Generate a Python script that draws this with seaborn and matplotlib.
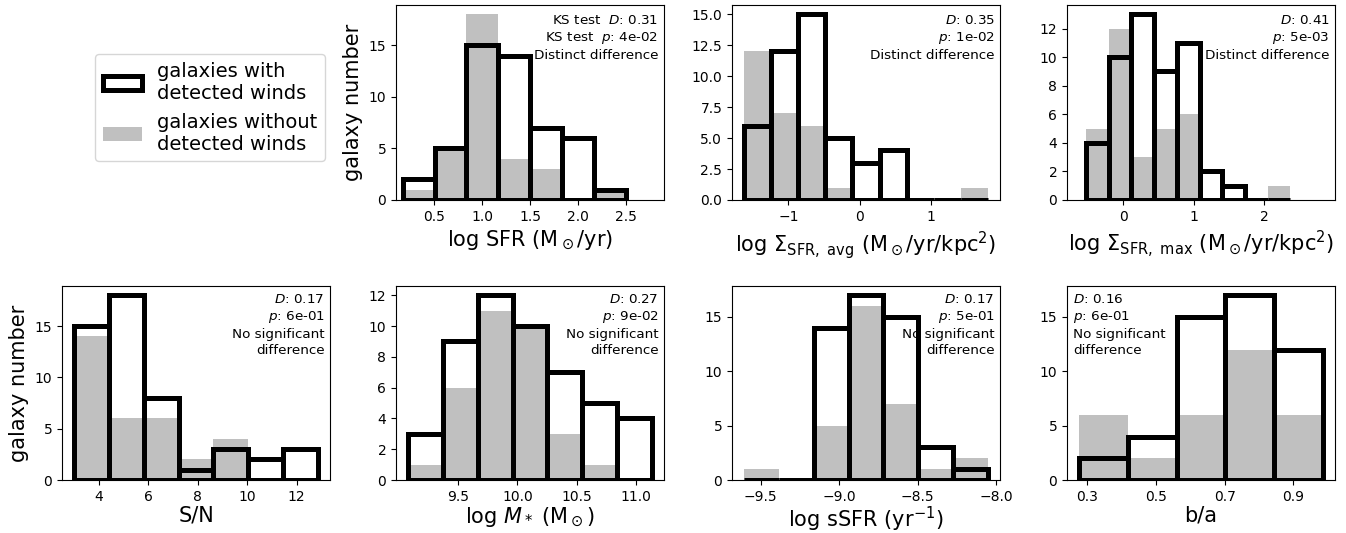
import numpy as np
import pandas as pd
import matplotlib
matplotlib.use("Agg")
import matplotlib.pyplot as plt
from matplotlib.patches import Patch
import seaborn as sns

# ---------------- data ----------------
sfr_edges = [0.17, 0.503, 0.836, 1.169, 1.502, 1.835, 2.168, 2.501]
sfr_wind = [2, 5, 15, 14, 7, 6, 1]
sfr_nowind = [1, 5, 18, 4, 3, 0, 1]

savg_edges = [-1.62, -1.24, -0.86, -0.48, -0.10, 0.28, 0.66, 1.04, 1.42, 1.80]
savg_wind = [6, 12, 15, 5, 3, 4, 0, 0, 0]
savg_nowind = [12, 7, 6, 1, 0, 0, 0, 0, 1]

smax_edges = [-0.53, -0.208, 0.114, 0.436, 0.758, 1.08, 1.402, 1.724, 2.046, 2.368]
smax_wind = [4, 10, 13, 9, 11, 2, 1, 0, 0]
smax_nowind = [5, 12, 3, 5, 6, 0, 0, 0, 1]

sn_edges = [3.0, 4.408, 5.816, 7.224, 8.632, 10.04, 11.448, 12.856]
sn_wind = [15, 18, 8, 1, 3, 2, 3]
sn_nowind = [14, 6, 6, 2, 4, 0, 0]

mass_edges = [9.08, 9.373, 9.666, 9.959, 10.252, 10.545, 10.838, 11.131]
mass_wind = [3, 9, 12, 10, 7, 5, 4]
mass_nowind = [1, 6, 11, 10, 3, 1, 0]

ssfr_edges = [-9.606, -9.384, -9.162, -8.94, -8.718, -8.496, -8.274, -8.052]
ssfr_wind = [0, 0, 14, 17, 15, 3, 1]
ssfr_nowind = [1, 0, 5, 16, 7, 1, 2]

ba_edges = [0.276, 0.418, 0.56, 0.702, 0.844, 0.986]
ba_wind = [2, 4, 15, 17, 12]
ba_nowind = [6, 2, 6, 12, 6]

xlabels = [
    r"log SFR (M$_\odot$/yr)",
    r"log $\Sigma_{\rm SFR,\ avg}$ (M$_\odot$/yr/kpc$^2$)",
    r"log $\Sigma_{\rm SFR,\ max}$ (M$_\odot$/yr/kpc$^2$)",
    "S/N",
    r"log $M_*$ (M$_\odot$)",
    r"log sSFR (yr$^{-1}$)",
    "b/a",
]
ks_texts = [
    "KS test  $D$: 0.31\nKS test  $p$: 4e-02\nDistinct difference",
    "$D$: 0.35\n$p$: 1e-02\nDistinct difference",
    "$D$: 0.41\n$p$: 5e-03\nDistinct difference",
    "$D$: 0.17\n$p$: 6e-01\nNo significant\ndifference",
    "$D$: 0.27\n$p$: 9e-02\nNo significant\ndifference",
    "$D$: 0.17\n$p$: 5e-01\nNo significant\ndifference",
    "$D$: 0.16\n$p$: 6e-01\nNo significant\ndifference",
]
legend_labels = ["galaxies with\ndetected winds", "galaxies without\ndetected winds"]

panels = [
    (sfr_edges, sfr_wind, sfr_nowind),
    (savg_edges, savg_wind, savg_nowind),
    (smax_edges, smax_wind, smax_nowind),
    (sn_edges, sn_wind, sn_nowind),
    (mass_edges, mass_wind, mass_nowind),
    (ssfr_edges, ssfr_wind, ssfr_nowind),
    (ba_edges, ba_wind, ba_nowind),
]

xlims = [(0.10, 2.90), None, (-0.80, 3.0), None, None, None, None]
xticks = [None, [-1, 0, 1], [0, 1, 2], [4, 6, 8, 10, 12],
          [9.5, 10.0, 10.5, 11.0], [-9.5, -9.0, -8.5, -8.0], [0.3, 0.5, 0.7, 0.9]]
yticks = [None, None, None, None, [0, 2, 4, 6, 8, 10, 12], None, None]

# ---------------- layout ----------------
W, H = 1346, 533
fig = plt.figure(figsize=(W / 100, H / 100), dpi=100)

col_left = [62, 396, 732, 1067]
axw = 268
top_rows = [(5, 200), (286, 480)]

def make_ax(col, row):
    t, b = top_rows[row]
    return fig.add_axes([col_left[col] / W, 1 - b / H, axw / W, (b - t) / H])

positions = [(1, 0), (2, 0), (3, 0), (0, 1), (1, 1), (2, 1), (3, 1)]

GRAY = "#c0c0c0"
LW = 3.6
TXT = 9.7

for i, ((edges, wind, nowind), (col, row)) in enumerate(zip(panels, positions)):
    ax = make_ax(col, row)
    e = np.asarray(edges, dtype=float)
    centers = 0.5 * (e[:-1] + e[1:])
    df = pd.DataFrame({"x": centers, "wind": wind, "nowind": nowind})
    sns.histplot(data=df, x="x", weights="nowind", bins=list(edges), ax=ax,
                 color=GRAY, alpha=1.0, linewidth=0, edgecolor="none")
    sns.histplot(data=df, x="x", weights="wind", bins=list(edges), ax=ax,
                 fill=False, color="black", linewidth=LW)
    ax.set_ylabel("")
    ax.set_xlabel(xlabels[i], fontsize=15, labelpad=3.5 if row == 0 else 1.0)
    if xlims[i] is not None:
        ax.set_xlim(*xlims[i])
    if xticks[i] is not None:
        ax.set_xticks(xticks[i])
    if yticks[i] is not None:
        ax.set_yticks(yticks[i])
    ax.tick_params(labelsize=10)
    ty = 0.955 if row == 0 else 0.965
    if i == 6:
        ax.text(0.022, ty, ks_texts[i], transform=ax.transAxes, ha="left",
                va="top", fontsize=TXT, linespacing=1.3)
    else:
        ax.text(0.98, ty, ks_texts[i], transform=ax.transAxes, ha="right",
                va="top", fontsize=TXT, multialignment="right", linespacing=1.3)
    if col == 0 or (row == 0 and col == 1):
        ax.set_ylabel("galaxy number", fontsize=15)

handles = [Patch(facecolor="white", edgecolor="black", linewidth=LW),
           Patch(facecolor=GRAY, edgecolor="none")]
fig.legend(handles, legend_labels, loc="upper left",
           bbox_to_anchor=(95 / W, 1 - 54 / H), borderaxespad=0, fontsize=14)

fig.savefig("out.png", dpi=100)
